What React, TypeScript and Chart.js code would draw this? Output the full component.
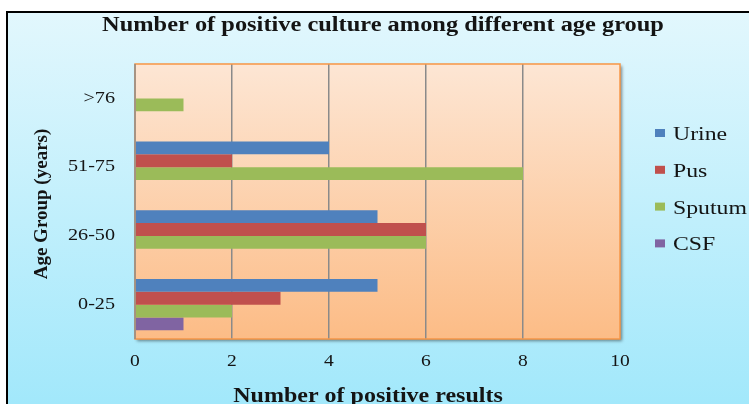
import React, { useEffect, useRef } from "react";
import { Chart, registerables } from "chart.js";

Chart.register(...registerables);

// Age groups, listed top to bottom
const ageGroups = [">76", "51-75", "26-50", "0-25"];

// Positive cultures per specimen type, one value per age group
const urine = [0, 4, 5, 5];
const pus = [0, 2, 6, 3];
const sputum = [1, 8, 6, 2];
const csf = [0, 0, 0, 1];

const xTicks = [0, 2, 4, 6, 8, 10];

const seriesNames = ["Urine", "Pus", "Sputum", "CSF"];
const seriesColors = ["#4F81BD", "#C0504D", "#9BBB59", "#8064A2"];

const chartTitle = "Number of positive culture among different age group";
const xTitle = "Number of positive results";
const yTitle = "Age Group (years)";

const W = 749;
const H = 404;
const SERIF = '"Liberation Serif", "Times New Roman", serif';
const TEXT = "#141414";

// Draws text widened horizontally by sx around its anchor point
function wideText(
  ctx: CanvasRenderingContext2D,
  text: string,
  x: number,
  y: number,
  font: string,
  align: CanvasTextAlign,
  sx: number,
  baseline: CanvasTextBaseline = "alphabetic"
) {
  ctx.save();
  ctx.translate(x, y);
  ctx.scale(sx, 1);
  ctx.font = font;
  ctx.textAlign = align;
  ctx.textBaseline = baseline;
  ctx.fillText(text, 0, 0);
  ctx.restore();
}

const decorations = {
  id: "decorations",
  beforeDraw(chart: any) {
    const { ctx, chartArea: a } = chart;
    ctx.save();
    ctx.fillStyle = "#ffffff";
    ctx.fillRect(0, 0, W, H);

    const bg = ctx.createLinearGradient(0, 12, 0, H);
    bg.addColorStop(0, "#E2F7FD");
    bg.addColorStop(1, "#A2E8FB");
    ctx.fillStyle = bg;
    ctx.fillRect(7, 12, W - 7, H - 12);

    ctx.strokeStyle = "#000000";
    ctx.lineWidth = 2;
    ctx.beginPath();
    ctx.moveTo(7, H);
    ctx.lineTo(7, 12);
    ctx.lineTo(W, 12);
    ctx.stroke();

    const pg = ctx.createLinearGradient(0, a.top, 0, a.bottom);
    pg.addColorStop(0, "#FDE6D4");
    pg.addColorStop(1, "#FCBC86");
    ctx.shadowColor = "rgba(0,0,0,0.45)";
    ctx.shadowOffsetX = 2;
    ctx.shadowOffsetY = 2;
    ctx.shadowBlur = 3;
    ctx.fillStyle = pg;
    ctx.fillRect(a.left, a.top, a.width, a.height);
    ctx.restore();
  },
  afterDraw(chart: any) {
    const { ctx, chartArea: a, scales } = chart;
    ctx.save();
    // plot area outline
    ctx.strokeStyle = "#F79646";
    ctx.lineWidth = 1.5;
    ctx.strokeRect(a.left, a.top, a.width, a.height);
    ctx.strokeStyle = "#8C8C8C";
    ctx.beginPath();
    ctx.moveTo(a.left, a.top);
    ctx.lineTo(a.left, a.bottom);
    ctx.stroke();

    ctx.fillStyle = TEXT;
    // category labels
    const yScale = scales.y;
    yScale.ticks.forEach((_t: any, i: number) => {
      const py = yScale.getPixelForTick(i);
      wideText(ctx, String(yScale.getLabelForValue(i)), a.left - 20, py, `16px ${SERIF}`, "right", 1.26, "middle");
    });
    // value labels
    const xScale = scales.x;
    xScale.ticks.forEach((t: any) => {
      const px = xScale.getPixelForValue(t.value);
      wideText(ctx, String(t.value), px, a.bottom + 23, `16px ${SERIF}`, "center", 1.22, "middle");
    });

    wideText(ctx, chartTitle, 383, 31, `bold 20px ${SERIF}`, "center", 1.22);
    wideText(ctx, xTitle, 368, 402, `bold 20px ${SERIF}`, "center", 1.2);

    ctx.save();
    ctx.translate(47, 204);
    ctx.rotate(-Math.PI / 2);
    ctx.font = `bold 19px ${SERIF}`;
    ctx.textAlign = "center";
    ctx.textBaseline = "alphabetic";
    ctx.fillText(yTitle, 0, 0);
    ctx.restore();

    // legend
    chart.data.datasets.forEach((ds: any, i: number) => {
      const cy = 133 + i * 36.8;
      ctx.fillStyle = ds.backgroundColor;
      ctx.fillRect(655, cy - 4, 10, 8);
      ctx.fillStyle = TEXT;
      wideText(ctx, ds.label, 673, cy + 7, `19px ${SERIF}`, "left", 1.25);
    });
    ctx.restore();
  },
};

export default function App() {
  const ref = useRef<HTMLCanvasElement | null>(null);

  useEffect(() => {
    if (!ref.current) return;
    const series = [urine, pus, sputum, csf];
    const chart = new Chart(ref.current, {
      type: "bar",
      data: {
        labels: ageGroups,
        datasets: series.map((values, i) => ({
          label: seriesNames[i],
          data: values,
          backgroundColor: seriesColors[i],
          borderWidth: 0,
          categoryPercentage: 0.745,
          barPercentage: 1,
        })),
      },
      options: {
        indexAxis: "y",
        responsive: false,
        animation: false,
        devicePixelRatio: 1,
        layout: { padding: { left: 0, right: 129, top: 64, bottom: 0 } },
        plugins: {
          legend: { display: false },
          title: { display: false },
          tooltip: { enabled: false },
        },
        scales: {
          x: {
            type: "linear",
            min: 0,
            max: 10,
            afterBuildTicks: (s: any) => {
              s.ticks = xTicks.map((v) => ({ value: v }));
            },
            afterFit: (s: any) => {
              s.height = 65;
            },
            grid: {
              drawTicks: false,
              lineWidth: 1.5,
              color: (c: any) =>
                c.tick && (c.tick.value === 0 || c.tick.value === 10)
                  ? "rgba(0,0,0,0)"
                  : "#8A8A8A",
            },
            border: { display: false },
            ticks: { display: false },
          },
          y: {
            type: "category",
            afterFit: (s: any) => {
              s.width = 135;
            },
            grid: { display: false, drawTicks: false },
            border: { display: false },
            ticks: { display: false },
          },
        },
      },
      plugins: [decorations],
    } as any);
    return () => chart.destroy();
  }, []);

  return (
    <div style={{ position: "absolute", left: 0, top: 0, width: W, height: H }}>
      <canvas ref={ref} width={W} height={H} style={{ display: "block" }} />
    </div>
  );
}
